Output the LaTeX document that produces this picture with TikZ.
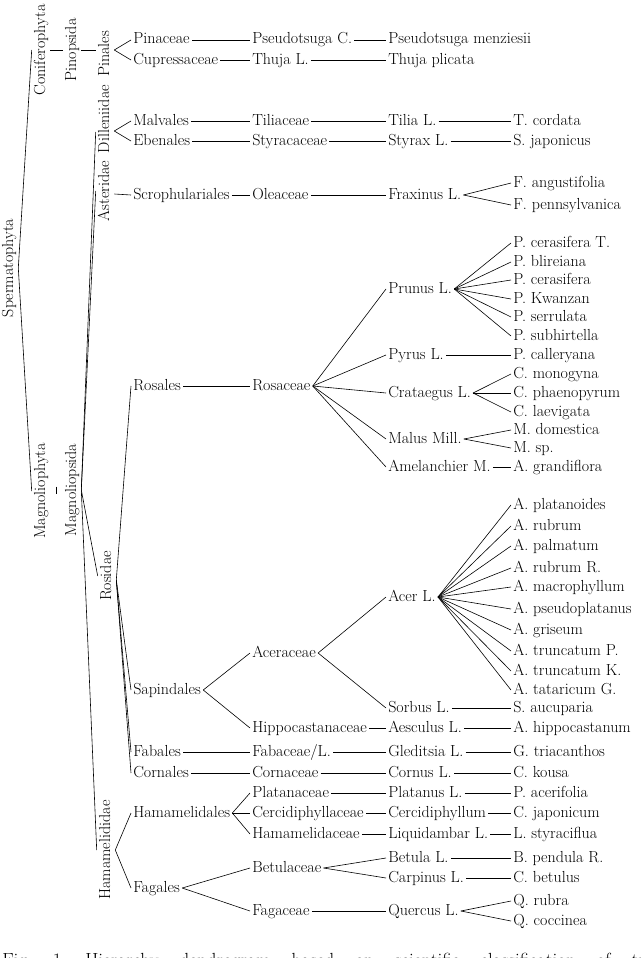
\documentclass[tikz,border=0pt]{standalone}
\begin{document}
\begin{tikzpicture}[x=1pt, y=-1pt, line width=0.6pt,
  every node/.style={anchor=west, inner sep=2pt, text height=11pt, text depth=3pt, font=\fontsize{16}{18}\selectfont},
  taxon/.style={anchor=center, rotate=90}]
\useasboundingbox (0,0) rectangle (640,958);
\clip (0,0) rectangle (640,958);

\node[taxon] (sperm) at (9,268) {Spermatophyta};
\node[taxon] (conif) at (41,50) {Coniferophyta};
\node[taxon] (pinop) at (72,50) {Pinopsida};
\node[taxon] (pinales) at (105,54) {Pinales};
\node[taxon] (magph) at (41,491) {Magnoliophyta};
\node[taxon] (magps) at (72,490) {Magnoliopsida};
\node[taxon] (dill) at (105,119) {Dilleniidae};
\node[taxon] (aster) at (105,191) {Asteridae};
\node[taxon] (rosid) at (107,576) {Rosidae};
\node[taxon] (hamam) at (106,850) {Hamamelididae};

\node (pinaceae) at (131,40) {Pinaceae};
\node (cupress) at (131,60) {Cupressaceae};
\node (malvales) at (131,121) {Malvales};
\node (ebenales) at (131,141) {Ebenales};
\node (scroph) at (131,195) {Scrophulariales};
\node (rosales) at (131,386) {Rosales};
\node (sapind) at (131,690) {Sapindales};
\node (fabales) at (131,752) {Fabales};
\node (cornales) at (131,773) {Cornales};
\node (hamales) at (131,813) {Hamamelidales};
\node (fagales) at (131,888) {Fagales};

\node (pseudoC) at (250,40) {Pseudotsuga C.};
\node (thujaL) at (250,60) {Thuja L.};
\node (tiliac) at (250,121) {Tiliaceae};
\node (styrac) at (250,141) {Styracaceae};
\node (oleac) at (250,195) {Oleaceae};
\node (rosac) at (250,386) {Rosaceae};
\node (acerac) at (250,653) {Aceraceae};
\node (hippoc) at (250,728) {Hippocastanaceae};
\node (fabac) at (250,752) {Fabaceae/L.};
\node (cornac) at (250,773) {Cornaceae};
\node (platac) at (250,793) {Platanaceae};
\node (cercac) at (250,813) {Cercidiphyllaceae};
\node (hamac) at (250,834) {Hamamelidaceae};
\node (betulac) at (250,868) {Betulaceae};
\node (fagac) at (250,911) {Fagaceae};

\node (pmenz) at (386,40) {Pseudotsuga menziesii};
\node (tplic) at (386,60) {Thuja plicata};
\node (tilia) at (386,121) {Tilia L.};
\node (styrax) at (386,141) {Styrax L.};
\node (fraxinus) at (386,195) {Fraxinus L.};
\node (prunus) at (386,289) {Prunus L.};
\node (pyrus) at (386,355) {Pyrus L.};
\node (crataegus) at (386,393) {Crataegus L.};
\node (malus) at (386,439) {Malus Mill.};
\node (amelan) at (386,467) {Amelanchier M.};
\node (acer) at (386,597) {Acer L.};
\node (sorbus) at (386,708) {Sorbus L.};
\node (aesculus) at (386,728) {Aesculus L.};
\node (gledit) at (386,752) {Gleditsia L.};
\node (cornus) at (386,773) {Cornus L.};
\node (platanus) at (386,793) {Platanus L.};
\node (cercid) at (386,813) {Cercidiphyllum};
\node (liquid) at (386,834) {Liquidambar L.};
\node (betula) at (386,858) {Betula L.};
\node (carpinus) at (386,878) {Carpinus L.};
\node (quercus) at (386,911) {Quercus L.};

\node (tcord) at (511,121) {T. cordata};
\node (sjap) at (511,141) {S. japonicus};
\node (fang) at (511,183) {F. angustifolia};
\node (fpenn) at (511,205) {F. pennsylvanica};
\node (pcerT) at (511,243) {P. cerasifera T.};
\node (pblir) at (511,262) {P. blireiana};
\node (pceras) at (511,280) {P. cerasifera};
\node (pkwan) at (511,299) {P. Kwanzan};
\node (pserr) at (511,317) {P. serrulata};
\node (psubh) at (511,336) {P. subhirtella};
\node (pcall) at (511,355) {P. calleryana};
\node (cmono) at (511,374) {C. monogyna};
\node (cphae) at (511,393) {C. phaenopyrum};
\node (claev) at (511,412) {C. laevigata};
\node (mdom) at (511,430) {M. domestica};
\node (msp) at (511,448) {M. sp.};
\node (agrand) at (511,467) {A. grandiflora};
\node (aplat) at (511,505) {A. platanoides};
\node (arub) at (511,526) {A. rubrum};
\node (apalm) at (511,546) {A. palmatum};
\node (arubR) at (511,568) {A. rubrum R.};
\node (amacr) at (511,587) {A. macrophyllum};
\node (apseu) at (511,609) {A. pseudoplatanus};
\node (agris) at (511,630) {A. griseum};
\node (atrP) at (511,651) {A. truncatum P.};
\node (atrK) at (511,671) {A. truncatum K.};
\node (atat) at (511,690) {A. tataricum G.};
\node (sauc) at (511,708) {S. aucuparia};
\node (ahipp) at (511,728) {A. hippocastanum};
\node (gtria) at (511,752) {G. triacanthos};
\node (ckous) at (511,773) {C. kousa};
\node (paceri) at (511,793) {P. acerifolia};
\node (cjap) at (511,813) {C. japonicum};
\node (lstyr) at (511,834) {L. styraciflua};
\node (bpend) at (511,858) {B. pendula R.};
\node (cbet) at (511,878) {C. betulus};
\node (qrub) at (511,901) {Q. rubra};
\node (qcocc) at (511,921) {Q. coccinea};

\node[anchor=base west, inner sep=0pt, font=\fontsize{19}{21}\selectfont] (caption) at (2,966) {\makebox[665pt][s]{Fig.~1.\quad Hierarchy dendrogram based on scientific classification of trees}};

\draw (sperm.south) -- (conif.north);
\draw (sperm.south) -- (magph.north);
\draw (conif.south) -- (pinop.north);
\draw (pinop.south) -- (pinales.north |- pinop.south);
\path (magph.south) -- (magps.north) coordinate[pos=0.5] (tick);
\draw ([yshift=4pt]tick) -- ([yshift=-3pt]tick);
\draw (magps.south) -- ([yshift=-13pt]dill.north);
\draw (magps.south) -- (aster.north);
\draw (magps.south) -- (rosid.north);
\draw (magps.south) -- (hamam.north);

\draw ([yshift=4pt]pinales.south) -- (pinaceae.west);
\draw ([yshift=4pt]pinales.south) -- (cupress.west);
\draw ([yshift=-12pt]dill.south) -- (malvales.west);
\draw ([yshift=-12pt]dill.south) -- (ebenales.west);
\draw ([yshift=-3pt]aster.south) -- (scroph.west);
\draw ([yshift=-4pt]rosid.south) -- (rosales.west);
\draw ([yshift=-4pt]rosid.south) -- (sapind.west);
\draw ([yshift=-4pt]rosid.south) -- (fabales.west);
\draw ([yshift=-4pt]rosid.south) -- (cornales.west);
\draw (hamam.south) -- (hamales.west);
\draw (hamam.south) -- (fagales.west);

\draw (pinaceae.east) -- (pseudoC.west) (pseudoC.east) -- (pmenz.west);
\draw (cupress.east) -- (thujaL.west) (thujaL.east) -- (tplic.west);
\draw (malvales.east) -- (tiliac.west) (tiliac.east) -- (tilia.west) (tilia.east) -- (tcord.west);
\draw (ebenales.east) -- (styrac.west) (styrac.east) -- (styrax.west) (styrax.east) -- (sjap.west);
\draw (scroph.east) -- (oleac.west) (oleac.east) -- (fraxinus.west);
\draw (fraxinus.east) -- (fang.west);
\draw (fraxinus.east) -- (fpenn.west);

\draw (rosales.east) -- (rosac.west);
\draw (rosac.east) -- (prunus.west);
\draw (rosac.east) -- (pyrus.west);
\draw (rosac.east) -- (crataegus.west);
\draw (rosac.east) -- (malus.west);
\draw (rosac.east) -- (amelan.west);
\draw (prunus.east) -- (pcerT.west);
\draw (prunus.east) -- (pblir.west);
\draw (prunus.east) -- (pceras.west);
\draw (prunus.east) -- (pkwan.west);
\draw (prunus.east) -- (pserr.west);
\draw (prunus.east) -- (psubh.west);
\draw (pyrus.east) -- (pcall.west);
\draw (crataegus.east) -- (cmono.west);
\draw (crataegus.east) -- (cphae.west);
\draw (crataegus.east) -- (claev.west);
\draw (malus.east) -- (mdom.west);
\draw (malus.east) -- (msp.west);
\draw (amelan.east) -- (agrand.west);

\draw (sapind.east) -- (acerac.west);
\draw (sapind.east) -- (hippoc.west);
\draw (acerac.east) -- (acer.west);
\draw (acerac.east) -- (sorbus.west);
\draw (acer.east) -- (aplat.west);
\draw (acer.east) -- (arub.west);
\draw (acer.east) -- (apalm.west);
\draw (acer.east) -- (arubR.west);
\draw (acer.east) -- (amacr.west);
\draw (acer.east) -- (apseu.west);
\draw (acer.east) -- (agris.west);
\draw (acer.east) -- (atrP.west);
\draw (acer.east) -- (atrK.west);
\draw (acer.east) -- (atat.west);
\draw (sorbus.east) -- (sauc.west);
\draw (hippoc.east) -- (aesculus.west) (aesculus.east) -- (ahipp.west);

\draw (fabales.east) -- (fabac.west) (fabac.east) -- (gledit.west) (gledit.east) -- (gtria.west);
\draw (cornales.east) -- (cornac.west) (cornac.east) -- (cornus.west) (cornus.east) -- (ckous.west);

\draw (hamales.east) -- (platac.west);
\draw (hamales.east) -- (cercac.west);
\draw (hamales.east) -- (hamac.west);
\draw (platac.east) -- (platanus.west) (platanus.east) -- (paceri.west);
\draw (cercac.east) -- (cercid.west) (cercid.east) -- (cjap.west);
\draw (hamac.east) -- (liquid.west) (liquid.east) -- (lstyr.west);

\draw (fagales.east) -- (betulac.west);
\draw (fagales.east) -- (fagac.west);
\draw (betulac.east) -- (betula.west);
\draw (betulac.east) -- (carpinus.west);
\draw (betula.east) -- (bpend.west);
\draw (carpinus.east) -- (cbet.west);
\draw (fagac.east) -- (quercus.west);
\draw (quercus.east) -- (qrub.west);
\draw (quercus.east) -- (qcocc.west);
\end{tikzpicture}
\end{document}
